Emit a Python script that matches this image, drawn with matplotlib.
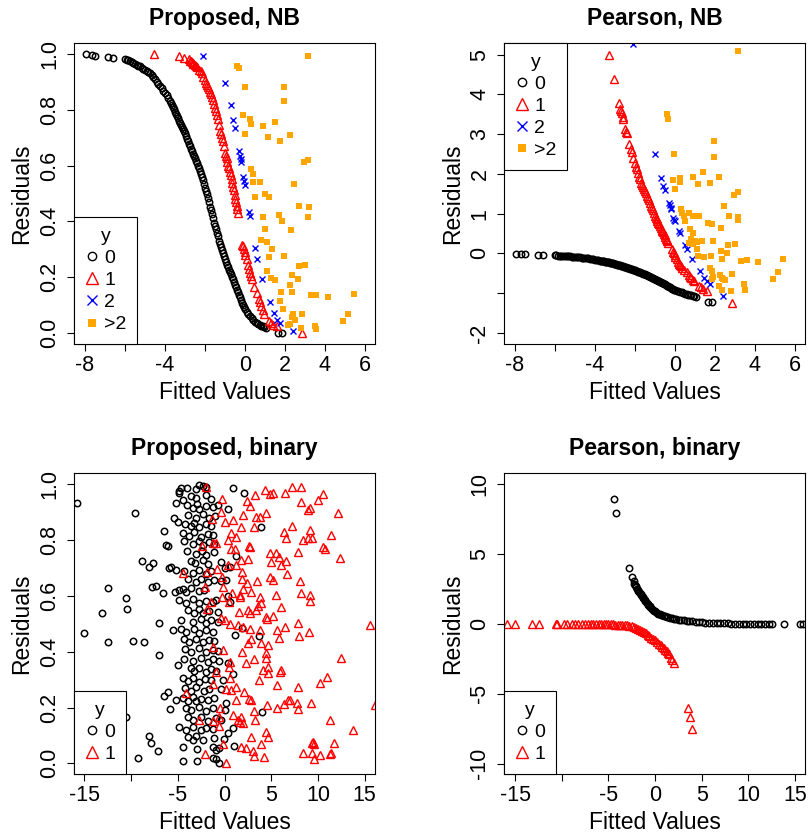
import numpy as np
import matplotlib
matplotlib.use('Agg')
import matplotlib.pyplot as plt
from matplotlib.lines import Line2D

nan = np.nan

# NB model, y = 0 : (fitted value, proposed residual, pearson residual)
nb_y0 = [
    (-7.95, 1.000, -0.025), (-7.67, 0.998, -0.026), (-7.50, 0.995, -0.027),
    (-6.83, 0.989, -0.038), (-6.58, 0.986, -0.040), (-6.00, 0.982, -0.050),
    (-5.92, 0.980, -0.052), (-5.85, 0.978, -0.054), (-5.75, 0.974, -0.056),
    (-5.67, 0.971, -0.058), (-5.58, 0.968, -0.062), (-5.50, 0.965, -0.065),
    (-5.42, 0.962, -0.068), (-5.33, 0.959, -0.072), (-5.25, 0.956, -0.076),
    (-5.17, 0.952, -0.079), (-5.08, 0.948, -0.082), (-5.00, 0.944, -0.085),
    (-4.92, 0.941, -0.090), (-4.83, 0.937, -0.095), (-4.75, 0.932, -0.100),
    (-4.67, 0.925, -0.105), (-4.58, 0.918, -0.110), (-4.50, 0.910, -0.115),
    (-4.42, 0.902, -0.121), (-4.33, 0.894, -0.128), (-4.25, 0.885, -0.135),
    (-4.17, 0.877, -0.141), (-4.08, 0.869, -0.148), (-4.00, 0.861, -0.155),
    (-3.92, 0.852, -0.162), (-3.83, 0.842, -0.171), (-3.75, 0.831, -0.180),
    (-3.70, 0.824, -0.185), (-3.65, 0.817, -0.190), (-3.60, 0.810, -0.195),
    (-3.55, 0.802, -0.200), (-3.50, 0.794, -0.205), (-3.45, 0.785, -0.211),
    (-3.40, 0.777, -0.217), (-3.35, 0.770, -0.223), (-3.30, 0.762, -0.229),
    (-3.25, 0.754, -0.235), (-3.20, 0.747, -0.241), (-3.15, 0.740, -0.247),
    (-3.10, 0.733, -0.253), (-3.05, 0.725, -0.259), (-3.00, 0.716, -0.265),
    (-2.95, 0.706, -0.272), (-2.90, 0.697, -0.280), (-2.85, 0.688, -0.288),
    (-2.80, 0.679, -0.296), (-2.75, 0.670, -0.304), (-2.70, 0.661, -0.312),
    (-2.65, 0.652, -0.320), (-2.60, 0.643, -0.328), (-2.55, 0.634, -0.336),
    (-2.50, 0.626, -0.345), (-2.45, 0.617, -0.353), (-2.40, 0.608, -0.361),
    (-2.35, 0.599, -0.370), (-2.30, 0.590, -0.378), (-2.25, 0.580, -0.387),
    (-2.20, 0.570, -0.395), (-2.15, 0.559, -0.404), (-2.10, 0.547, -0.412),
    (-2.05, 0.533, -0.421), (-2.00, 0.520, -0.430), (-1.95, 0.510, -0.440),
    (-1.90, 0.498, -0.450), (-1.85, 0.484, -0.460), (-1.80, 0.468, -0.470),
    (-1.75, 0.453, -0.480), (-1.70, 0.440, -0.490), (-1.65, 0.426, -0.500),
    (-1.60, 0.413, -0.510), (-1.55, 0.396, -0.520), (-1.50, 0.384, -0.530),
    (-1.45, 0.372, -0.542), (-1.40, 0.360, -0.554), (-1.35, 0.346, -0.566),
    (-1.30, 0.331, -0.578), (-1.25, 0.320, -0.590), (-1.20, 0.309, -0.602),
    (-1.15, 0.297, -0.614), (-1.10, 0.286, -0.626), (-1.05, 0.275, -0.638),
    (-1.00, 0.264, -0.650), (-0.95, 0.254, -0.663), (-0.90, 0.245, -0.676),
    (-0.85, 0.236, -0.689), (-0.80, 0.227, -0.702), (-0.75, 0.219, -0.715),
    (-0.70, 0.211, -0.728), (-0.65, 0.202, -0.741), (-0.60, 0.193, -0.754),
    (-0.55, 0.182, -0.767), (-0.50, 0.172, -0.780), (-0.45, 0.163, -0.795),
    (-0.40, 0.154, -0.810), (-0.35, 0.145, -0.825), (-0.30, 0.135, -0.840),
    (-0.25, 0.127, -0.855), (-0.20, 0.117, -0.870), (-0.15, 0.108, -0.885),
    (-0.10, 0.100, -0.900), (-0.05, 0.093, -0.910), (0.00, 0.085, -0.920),
    (0.08, 0.075, -0.935), (0.17, 0.067, -0.950), (0.25, 0.060, -0.965),
    (0.33, 0.052, -0.980), (0.42, 0.045, -0.995), (0.50, 0.040, -1.010),
    (0.58, 0.036, -1.020), (0.67, 0.031, -1.035), (0.75, 0.027, -1.045),
    (0.82, 0.025, -1.055), (0.88, 0.023, -1.065), (0.95, 0.020, -1.080),
    (1.03, 0.018, -1.090), (1.67, 0.001, -1.220), (1.83, 0.001, -1.220),
]

# NB model, y = 1
nb_y1 = [
    (-4.55, 1.000, nan), (-3.32, 0.992, 4.99), (-3.06, 0.986, 4.38),
    (-2.82, 0.982, 3.79), (-2.76, 0.977, 3.64), (-2.71, 0.974, 3.58),
    (-2.67, 0.971, 3.52), (-2.62, 0.968, 3.44), (-2.58, 0.965, 3.39),
    (-2.50, 0.962, 3.12), (-2.46, 0.958, 3.05), (-2.42, 0.954, 3.02),
    (-2.28, 0.944, 2.74), (-2.22, 0.938, 2.63), (-2.17, 0.934, 2.55),
    (-2.08, 0.918, 2.40), (-2.00, 0.906, 2.28), (-1.95, 0.898, 2.18),
    (-1.92, 0.890, 2.11), (-1.86, 0.882, 2.02), (-1.80, 0.875, 1.93),
    (-1.75, 0.866, 1.86), (-1.70, 0.857, 1.78), (-1.65, 0.845, 1.71),
    (-1.60, 0.835, 1.66), (-1.55, 0.822, 1.61), (-1.50, 0.807, 1.57),
    (-1.45, 0.795, 1.51), (-1.40, 0.782, 1.45), (-1.35, 0.766, 1.39),
    (-1.30, 0.745, 1.33), (-1.25, 0.724, 1.27), (-1.20, 0.712, 1.20),
    (-1.15, 0.700, 1.14), (-1.10, 0.690, 1.08), (-1.05, 0.670, 1.01),
    (-1.00, 0.646, 0.94), (-0.95, 0.635, 0.89), (-0.92, 0.627, 0.86),
    (-0.88, 0.613, 0.82), (-0.83, 0.599, 0.77), (-0.79, 0.590, 0.73),
    (-0.75, 0.578, 0.69), (-0.71, 0.566, 0.64), (-0.67, 0.553, 0.60),
    (-0.63, 0.538, 0.56), (-0.60, 0.525, 0.53), (-0.56, 0.512, 0.49),
    (-0.52, 0.495, 0.45), (-0.48, 0.480, 0.40), (-0.45, 0.468, 0.37),
    (-0.42, 0.456, 0.33), (-0.38, 0.444, 0.30), (-0.35, 0.430, 0.27),
    (-0.14, 0.317, 0.10), (-0.10, 0.310, 0.04), (-0.06, 0.300, 0.00),
    (-0.02, 0.290, -0.04), (0.02, 0.280, -0.08), (0.08, 0.265, -0.15),
    (0.15, 0.245, -0.21), (0.22, 0.230, -0.26), (0.27, 0.215, -0.30),
    (0.31, 0.205, -0.33), (0.36, 0.192, -0.36), (0.45, 0.165, -0.41),
    (0.58, 0.144, -0.48), (0.70, 0.120, -0.55), (0.76, 0.110, -0.59),
    (0.82, 0.095, -0.63), (0.88, 0.081, -0.67), (0.95, 0.069, -0.70),
    (1.22, 0.042, -0.82), (1.30, 0.037, -0.85), (1.40, 0.030, -0.89),
    (1.58, 0.025, -0.95), (2.85, 0.001, -1.26),
]

# NB model, y = 2
nb_y2 = [
    (-2.10, 0.994, 5.26), (-1.02, 0.896, 2.49), (-0.68, 0.819, 1.90),
    (-0.58, 0.765, 1.69), (-0.52, 0.736, 1.60), (-0.30, 0.652, 1.27),
    (-0.26, 0.635, 1.21), (-0.22, 0.623, 1.15), (-0.18, 0.613, 1.11),
    (-0.10, 0.561, 0.90), (-0.06, 0.545, 0.85), (0.00, 0.530, 0.81),
    (0.20, 0.432, 0.56), (0.26, 0.418, 0.50), (0.52, 0.304, 0.20),
    (0.60, 0.265, 0.10), (0.85, 0.194, -0.15), (1.23, 0.111, -0.44),
    (1.45, 0.073, -0.61), (1.62, 0.045, -0.70), (1.75, 0.037, -0.78),
    (2.42, 0.008, -1.07),
]

# NB model, y > 2 : (fitted value, residual), read separately per panel
nb_prop_gt2 = [
    (3.13, 0.992), (-0.42, 0.958), (-0.30, 0.950), (0.00, 0.881), (1.95, 0.881),
    (1.95, 0.831), (-0.12, 0.783), (0.25, 0.769), (0.30, 0.750), (1.50, 0.756),
    (0.88, 0.742), (2.25, 0.710), (1.17, 0.702), (1.75, 0.688), (0.00, 0.715),
    (2.95, 0.613), (3.13, 0.620), (0.30, 0.587), (0.38, 0.569), (0.42, 0.542),
    (0.75, 0.542), (2.47, 0.536), (1.00, 0.500), (1.22, 0.489), (0.50, 0.488),
    (2.70, 0.456), (3.18, 0.452), (3.13, 0.417), (1.70, 0.424), (0.88, 0.417),
    (1.87, 0.400), (1.00, 0.373), (2.28, 0.370), (0.80, 0.335), (1.08, 0.325),
    (1.33, 0.301), (1.20, 0.274), (1.95, 0.276), (2.72, 0.240), (3.00, 0.245),
    (1.12, 0.221), (1.28, 0.196), (1.50, 0.188), (2.33, 0.206), (2.63, 0.193),
    (2.25, 0.173), (1.78, 0.145), (2.37, 0.146), (3.28, 0.135), (3.40, 0.135),
    (3.55, 0.135), (4.13, 0.127), (5.45, 0.140), (1.75, 0.115), (1.90, 0.085),
    (2.38, 0.069), (2.87, 0.069), (2.33, 0.057), (2.50, 0.045), (2.25, 0.033),
    (2.17, 0.027), (2.78, 0.018), (3.50, 0.025), (3.55, 0.015), (4.88, 0.042),
    (5.13, 0.069),
]
nb_pear_gt2 = [
    (3.13, 5.09), (-0.42, 3.50), (-0.37, 3.37), (-0.05, 2.51), (1.95, 2.82),
    (1.95, 2.42), (-0.12, 1.84), (0.25, 1.89), (0.25, 1.79), (0.88, 1.92),
    (1.13, 1.75), (1.42, 2.05), (1.75, 1.76), (2.18, 1.92), (0.00, 1.61),
    (0.30, 1.11), (0.37, 1.01), (0.45, 0.94), (0.50, 0.81), (0.72, 1.02),
    (0.92, 0.94), (1.20, 0.94), (2.47, 1.19), (2.95, 1.48), (3.17, 1.54),
    (2.72, 0.94), (3.17, 0.91), (3.17, 0.83), (1.67, 0.77), (1.87, 0.73),
    (2.28, 0.64), (0.75, 0.62), (0.88, 0.50), (0.78, 0.37), (1.00, 0.30),
    (1.12, 0.28), (1.33, 0.31), (1.92, 0.31), (0.72, 0.27), (2.67, 0.22),
    (3.00, 0.24), (0.92, 0.23), (1.08, 0.10), (1.17, -0.07), (1.45, -0.09),
    (1.78, -0.07), (2.30, 0.05), (2.58, 0.02), (2.33, -0.13), (3.30, -0.18),
    (3.58, -0.17), (4.13, -0.21), (5.42, -0.15), (1.75, -0.36), (1.83, -0.44),
    (1.88, -0.59), (1.83, -0.65), (2.25, -0.55), (2.33, -0.61), (2.42, -0.65),
    (2.50, -0.68), (2.83, -0.53), (3.45, -0.78), (3.50, -0.91), (2.20, -0.82),
    (2.33, -0.92), (2.78, -0.95), (4.88, -0.64), (5.13, -0.47),
]

# binary model, proposed residuals : (fitted value, residual)
bin_prop_y0 = [
    (-15.77, 0.934), (-9.57, 0.896), (-12.47, 0.627), (-10.57, 0.591), (-10.39, 0.552),
    (-13.15, 0.538), (-15.02, 0.466), (-12.47, 0.436), (-9.78, 0.439), (-8.60, 0.433),
    (-7.06, 0.388), (-6.99, 0.502), (-8.78, 0.725), (-8.06, 0.705), (-7.63, 0.719),
    (-7.71, 0.633), (-7.28, 0.635), (-6.63, 0.611), (-6.42, 0.832), (-6.27, 0.782),
    (-6.06, 0.778), (-5.91, 0.699), (-5.73, 0.704), (-5.38, 0.878), (-5.20, 0.932),
    (-5.02, 0.866), (-4.84, 0.968), (-4.84, 0.974), (-4.01, 0.986), (-5.20, 0.692),
    (-10.57, 0.166), (-8.06, 0.097), (-7.85, 0.073), (-7.13, 0.046), (-9.21, 0.020),
    (-6.42, 0.240), (-6.09, 0.255), (-5.81, 0.193), (-5.20, 0.228), (-5.56, 0.477),
    (-5.02, 0.353), (-4.91, 0.621), (-5.27, 0.615),
    (0.90, 0.986), (2.08, 0.968), (3.87, 0.845), (3.66, 0.456), (4.01, 0.185),
    (1.00, 0.062), (1.25, 0.743), (0.00, 0.701), (0.54, 0.705), (0.18, 0.657),
    (0.36, 0.600), (0.54, 0.579), (1.15, 0.458), (1.90, 0.484), (0.36, 0.360),
    (0.90, 0.319), (-0.11, 0.300), (-0.36, 0.268), (0.18, 0.215), (0.07, 0.191),
    (0.36, 0.107), (0.90, 0.125), (-0.07, 0.089),
    (-2.69, 0.998), (-2.33, 0.994), (-1.97, 0.988), (-3.05, 0.982), (-4.66, 0.985),
    (-3.58, 0.958), (-3.05, 0.950), (-1.97, 0.962), (-1.43, 0.948), (-4.48, 0.945),
    (-4.01, 0.925), (-3.41, 0.915), (-2.97, 0.928), (-2.69, 0.910), (-1.97, 0.921),
    (-1.18, 0.918), (-0.72, 0.926), (0.36, 0.912),
    (-3.94, 0.889), (-3.05, 0.880), (-2.33, 0.892), (-1.61, 0.878), (-0.97, 0.886),
    (-4.19, 0.858), (-3.58, 0.851), (-3.23, 0.862), (-2.69, 0.848), (-1.97, 0.856),
    (-1.43, 0.850),
    (-4.48, 0.824), (-3.76, 0.815), (-3.23, 0.828), (-2.51, 0.812), (-1.79, 0.822),
    (-1.25, 0.818),
    (-4.30, 0.795), (-3.41, 0.786), (-2.69, 0.798), (-2.33, 0.781), (-1.61, 0.792),
    (-1.08, 0.786),
    (-4.01, 0.760), (-3.05, 0.750), (-2.40, 0.762), (-1.97, 0.748), (-1.08, 0.756),
    (-3.58, 0.725), (-3.12, 0.716), (-2.33, 0.728), (-1.79, 0.713), (-0.36, 0.721),
    (-4.30, 0.690), (-3.41, 0.680), (-2.69, 0.692), (-1.97, 0.678), (-1.43, 0.688),
    (-3.94, 0.660), (-3.05, 0.650), (-2.51, 0.662), (-1.79, 0.648), (-1.08, 0.657),
    (-0.36, 0.652),
    (-4.48, 0.625), (-4.12, 0.614), (-3.58, 0.628), (-2.69, 0.616), (-2.15, 0.622),
    (-4.84, 0.585), (-4.12, 0.576), (-3.41, 0.588), (-2.69, 0.574), (-1.97, 0.583),
    (-1.25, 0.577), (-0.90, 0.586),
    (-3.94, 0.550), (-3.23, 0.540), (-2.69, 0.552), (-2.33, 0.538), (-1.61, 0.547),
    (-0.72, 0.542),
    (-4.66, 0.515), (-3.41, 0.505), (-2.51, 0.517), (-1.97, 0.503), (-1.43, 0.512),
    (-0.72, 0.507),
    (-4.66, 0.480), (-4.12, 0.470), (-3.23, 0.482), (-2.69, 0.468), (-1.97, 0.477),
    (-1.25, 0.472),
    (-4.30, 0.445), (-3.76, 0.435), (-3.05, 0.447), (-2.33, 0.433), (-1.68, 0.442),
    (-1.08, 0.437),
    (-4.19, 0.410), (-3.58, 0.400), (-2.69, 0.412), (-1.97, 0.398), (-1.25, 0.407),
    (-0.72, 0.402),
    (-4.30, 0.375), (-3.41, 0.365), (-2.51, 0.377), (-1.79, 0.363), (-1.25, 0.372),
    (-0.54, 0.367),
    (-3.58, 0.340), (-3.23, 0.330), (-2.69, 0.342), (-1.97, 0.328), (-1.43, 0.337),
    (-0.90, 0.332),
    (-4.48, 0.305), (-3.94, 0.295), (-3.41, 0.307), (-2.69, 0.293), (-2.04, 0.302),
    (-1.43, 0.297),
    (-4.19, 0.270), (-3.58, 0.260), (-3.05, 0.272), (-2.15, 0.258), (-1.61, 0.267),
    (-4.48, 0.235), (-3.94, 0.225), (-3.41, 0.237), (-3.05, 0.223), (-2.51, 0.232),
    (-1.79, 0.227), (-1.08, 0.234),
    (-4.12, 0.200), (-3.58, 0.190), (-2.69, 0.202), (-1.97, 0.188), (-1.25, 0.197),
    (-3.94, 0.165), (-3.41, 0.155), (-2.51, 0.167), (-1.79, 0.153), (-0.90, 0.162),
    (-0.36, 0.157),
    (-4.84, 0.130), (-4.12, 0.120), (-3.41, 0.132), (-2.51, 0.118), (-1.97, 0.127),
    (-1.25, 0.122),
    (-3.94, 0.095), (-3.41, 0.085), (-3.05, 0.097), (-2.33, 0.083), (-1.08, 0.092),
    (-4.41, 0.058), (-2.97, 0.050), (-1.25, 0.060), (-0.90, 0.048), (-0.61, 0.055),
    (-4.41, 0.008), (-2.97, 0.008), (-1.25, 0.020), (-0.90, 0.014), (-0.61, 0.000),
]
bin_prop_y1 = [
    (-1.97, 0.991), (-0.25, 0.946), (-0.36, 0.902), (0.00, 0.863), (0.90, 0.872),
    (1.79, 0.848), (1.97, 0.890), (2.44, 0.940), (2.69, 0.923), (3.23, 0.961),
    (3.15, 0.846), (3.41, 0.884), (3.76, 0.884), (4.48, 0.898), (4.37, 0.979),
    (4.84, 0.965), (5.20, 0.970), (6.49, 0.967), (7.17, 0.989), (8.14, 0.989),
    (8.17, 0.935), (8.96, 0.908), (9.14, 0.914), (10.04, 0.943), (10.57, 0.964),
    (12.19, 0.898), (6.34, 0.830), (6.63, 0.808), (7.24, 0.850), (8.35, 0.800),
    (8.96, 0.806), (9.14, 0.836), (9.32, 0.808), (11.40, 0.818), (10.75, 0.768),
    (12.37, 0.734), (-1.33, 0.874), (0.65, 0.826), (0.36, 0.800), (1.25, 0.812),
    (-2.44, 0.779), (-1.25, 0.791), (-0.90, 0.788), (0.72, 0.768), (1.08, 0.768),
    (2.58, 0.779), (2.69, 0.774), (1.79, 0.728), (2.51, 0.731), (4.84, 0.752),
    (5.56, 0.755), (5.02, 0.720), (5.84, 0.738), (6.09, 0.711), (6.63, 0.726),
    (7.89, 0.756), (10.57, 0.774), (-0.79, 0.696), (-1.86, 0.687), (-4.41, 0.681),
    (-0.29, 0.666), (0.36, 0.711), (1.25, 0.711), (1.90, 0.687), (1.90, 0.659),
    (2.40, 0.645), (3.48, 0.653), (4.84, 0.669), (5.20, 0.657), (6.70, 0.678),
    (8.06, 0.653), (-2.08, 0.633), (-0.18, 0.633), (-0.25, 0.597), (0.79, 0.609),
    (1.61, 0.603), (1.97, 0.624), (2.87, 0.615), (3.76, 0.597), (3.94, 0.575),
    (3.58, 0.564), (3.41, 0.549), (2.51, 0.549), (2.69, 0.540), (1.61, 0.597),
    (1.51, 0.541), (0.47, 0.579), (-1.43, 0.579), (-1.86, 0.552), (-0.36, 0.519),
    (0.00, 0.513), (0.61, 0.498), (1.43, 0.495), (1.97, 0.489), (2.69, 0.480),
    (2.87, 0.444), (3.76, 0.478), (4.48, 0.525), (4.55, 0.516), (5.20, 0.528),
    (5.48, 0.603), (6.02, 0.561), (6.45, 0.489), (7.81, 0.501), (8.14, 0.611),
    (9.14, 0.603), (9.14, 0.581), (9.07, 0.469), (7.99, 0.457), (5.81, 0.448),
    (5.63, 0.478), (15.59, 0.495), (-1.18, 0.418), (-0.11, 0.406), (1.90, 0.400),
    (2.51, 0.430), (3.94, 0.432), (4.66, 0.424), (4.48, 0.396), (4.41, 0.376),
    (3.12, 0.372), (2.33, 0.358), (0.54, 0.364), (0.47, 0.346), (-0.90, 0.328),
    (-1.25, 0.286), (0.11, 0.268), (0.61, 0.304), (0.72, 0.262), (1.18, 0.274),
    (2.08, 0.254), (2.62, 0.229), (2.87, 0.227), (1.25, 0.227), (3.66, 0.298),
    (4.12, 0.334), (4.66, 0.346), (4.66, 0.322), (5.66, 0.282), (5.91, 0.328),
    (6.09, 0.334), (7.89, 0.274), (10.22, 0.289), (10.93, 0.308), (12.44, 0.376),
    (6.81, 0.227), (6.99, 0.227), (6.34, 0.211), (5.66, 0.200), (7.78, 0.215),
    (7.89, 0.193), (9.25, 0.217), (4.55, 0.208), (3.15, 0.187), (1.79, 0.167),
    (1.43, 0.157), (1.61, 0.149), (0.90, 0.173), (-0.47, 0.200), (-0.54, 0.167),
    (-0.61, 0.135), (-1.25, 0.153), (-2.76, 0.155), (-4.12, 0.253), (1.97, 0.143),
    (3.23, 0.157), (16.13, 0.209), (4.48, 0.113), (4.66, 0.095), (2.87, 0.095),
    (1.79, 0.059), (2.33, 0.056), (3.05, 0.045), (3.12, 0.026), (3.87, 0.071),
    (4.19, 0.021), (-0.18, 0.068), (-2.04, 0.032), (0.11, 0.003), (8.42, 0.036),
    (9.32, 0.036), (9.32, 0.074), (9.50, 0.077), (9.57, 0.071), (9.57, 0.014),
    (10.22, 0.030), (11.29, 0.155), (11.29, 0.032), (11.40, 0.038), (11.72, 0.074),
    (13.80, 0.121),
]

# binary model, pearson residuals
bin_pear_y0 = [
    (-4.39, 8.93), (-4.18, 7.95), (-2.79, 3.98), (-2.43, 3.38), (-2.30, 3.05),
    (-2.22, 2.88), (-2.15, 2.80), (-2.07, 2.72), (-2.00, 2.62), (-1.92, 2.52),
    (-1.85, 2.44), (-1.78, 2.36), (-1.70, 2.28), (-1.62, 2.20), (-1.55, 2.13),
    (-1.48, 2.06), (-1.40, 1.99), (-1.32, 1.92), (-1.25, 1.85), (-1.17, 1.77),
    (-1.10, 1.70), (-1.02, 1.62), (-0.95, 1.55), (-0.87, 1.49), (-0.80, 1.43),
    (-0.72, 1.37), (-0.65, 1.31), (-0.57, 1.26), (-0.50, 1.21), (-0.40, 1.14),
    (-0.30, 1.07), (-0.20, 1.01), (-0.10, 0.95), (0.00, 0.90), (0.12, 0.84),
    (0.25, 0.79), (0.37, 0.74), (0.50, 0.70), (0.65, 0.65), (0.80, 0.61),
    (0.95, 0.57), (1.10, 0.54), (1.25, 0.51), (1.45, 0.47), (1.65, 0.43),
    (1.85, 0.40), (2.05, 0.37), (2.30, 0.34), (2.55, 0.31), (2.80, 0.28),
    (3.10, 0.25), (3.40, 0.22), (3.70, 0.20), (4.00, 0.18), (4.35, 0.16),
    (4.70, 0.14), (5.05, 0.12), (5.40, 0.10), (5.80, 0.09), (6.20, 0.07),
    (6.60, 0.06), (7.00, 0.05), (7.40, 0.04), (7.80, 0.035), (8.20, 0.03),
    (8.60, 0.025), (9.00, 0.02), (9.40, 0.015), (9.80, 0.012), (10.20, 0.01),
    (10.60, 0.008), (11.00, 0.006), (11.40, 0.005), (11.80, 0.004), (12.20, 0.003),
    (12.55, 0.002), (13.80, 0.001), (15.50, 0.0), (15.90, 0.0),
]
bin_pear_y1 = [
    (-15.82, 0.0), (-15.00, 0.0), (-13.21, 0.0), (-12.43, 0.0), (-10.64, 0.0),
    (-10.46, 0.0), (-9.75, 0.0), (-9.46, 0.0), (-8.90, 0.0), (-8.57, 0.0),
    (-8.20, 0.0), (-7.86, 0.0), (-7.50, 0.0), (-7.20, 0.0), (-6.90, 0.0),
    (-6.60, -0.01), (-6.30, -0.01), (-6.00, -0.01), (-5.75, -0.01), (-5.50, -0.02),
    (-5.25, -0.02), (-5.00, -0.02), (-4.75, -0.03), (-4.50, -0.03), (-4.25, -0.04),
    (-4.00, -0.05), (-3.75, -0.06), (-3.50, -0.07), (-3.25, -0.08), (-3.00, -0.10),
    (-2.75, -0.13), (-2.50, -0.16), (-2.25, -0.22), (-2.00, -0.28), (-1.80, -0.34),
    (-1.60, -0.41), (-1.40, -0.48), (-1.20, -0.57), (-1.00, -0.66), (-0.80, -0.76),
    (-0.60, -0.86), (-0.40, -0.97), (-0.20, -1.07), (0.00, -1.17), (0.20, -1.28),
    (0.40, -1.40), (0.60, -1.52), (0.80, -1.64), (0.95, -1.73), (1.10, -1.85),
    (1.25, -1.97), (1.40, -2.08), (1.55, -2.12), (1.70, -2.45), (1.85, -2.57),
    (2.07, -2.81), (3.57, -6.02), (3.75, -6.69), (4.00, -7.52),
]

plt.rcParams['font.family'] = ['Liberation Sans', 'DejaVu Sans']

styles = {
    '0': dict(marker='o', mfc='none', mec='black', ms=4.6, mew=1.1),
    '1': dict(marker='^', mfc='none', mec='red', ms=6.0, mew=1.0),
    '2': dict(marker='x', color='blue', ms=4.8, mew=1.0),
    '>2': dict(marker='s', color='orange', mec='orange', ms=4.7, mew=0),
}
leg_styles = {
    '0': dict(marker='o', mfc='none', mec='black', ms=6, mew=1.0),
    '1': dict(marker='^', mfc='none', mec='red', ms=8, mew=1.0),
    '2': dict(marker='x', color='blue', ms=6.5, mew=1.0),
    '>2': dict(marker='s', color='orange', mec='orange', ms=6, mew=0),
}


def col(rows, i):
    return np.array([r[i] for r in rows], dtype=float)


def panel(pos, title, series, xticks, xlabels, yticks, ylabels, xlim, ylim, loc):
    ax = fig.add_axes(pos)
    keys = []
    for key, x, y in series:
        ax.plot(x, y, ls='none', **styles[key])
        keys.append(key)
    ax.set_xlim(*xlim)
    ax.set_ylim(*ylim)
    ax.set_xticks(xticks)
    ax.set_xticklabels(xlabels)
    ax.set_yticks(yticks)
    ax.set_yticklabels(ylabels, rotation=90, va='center')
    ax.tick_params(direction='out', length=5, width=0.8, labelsize=15.5,
                   top=False, right=False)
    ax.tick_params(axis='x', pad=3)
    ax.tick_params(axis='y', pad=5)
    for s in ax.spines.values():
        s.set_linewidth(0.8)
        s.set_color('black')
    ax.text(0.5, 1.083, title, transform=ax.transAxes, ha='center', va='center',
            fontsize=16.5, fontweight='bold')
    ax.text(0.5, -0.161, 'Fitted Values', transform=ax.transAxes,
            ha='center', va='center', fontsize=16.5)
    ax.text(-0.173, 0.5, 'Residuals', transform=ax.transAxes, rotation=90,
            ha='center', va='center', fontsize=16.5)
    handles = [Line2D([], [], ls='none', **leg_styles[k]) for k in keys]
    leg = ax.legend(handles, keys, title='y', loc=loc, borderaxespad=0,
                    fancybox=False, edgecolor='black', framealpha=1,
                    fontsize=14, title_fontsize=14, handlelength=0.7,
                    handletextpad=0.3, labelspacing=0.23, borderpad=0.55)
    leg.get_frame().set_linewidth(0.8)
    return ax


fig = plt.figure(figsize=(8.08, 8.36), dpi=100)

nb_xt = [-8, -6, -4, -2, 0, 2, 4, 6]
nb_xl = ['-8', '', '-4', '', '0', '2', '4', '6']
prop_yt = [0, 0.2, 0.4, 0.6, 0.8, 1.0]
prop_yl = ['0.0', '0.2', '0.4', '0.6', '0.8', '1.0']
bin_xt = [-15, -10, -5, 0, 5, 10, 15]
bin_xl = ['-15', '', '-5', '0', '5', '10', '15']

panel([0.0916, 0.5885, 0.3725, 0.3600], 'Proposed, NB',
      [('0', col(nb_y0, 0), col(nb_y0, 1)),
       ('1', col(nb_y1, 0), col(nb_y1, 1)),
       ('2', col(nb_y2, 0), col(nb_y2, 1)),
       ('>2', col(nb_prop_gt2, 0), col(nb_prop_gt2, 1))],
      nb_xt, nb_xl, prop_yt, prop_yl, (-8.55, 6.5), (-0.04, 1.04), 'lower left')

panel([0.6241, 0.5885, 0.3722, 0.3600], 'Pearson, NB',
      [('0', col(nb_y0, 0), col(nb_y0, 2)),
       ('1', col(nb_y1, 0), col(nb_y1, 2)),
       ('2', col(nb_y2, 0), col(nb_y2, 2)),
       ('>2', col(nb_pear_gt2, 0), col(nb_pear_gt2, 1))],
      nb_xt, nb_xl, [-2, -1, 0, 1, 2, 3, 4, 5], ['-2', '', '0', '1', '2', '3', '4', '5'],
      (-8.53, 6.5), (-2.28, 5.29), 'upper left')

panel([0.0916, 0.0742, 0.3725, 0.3597], 'Proposed, binary',
      [('0', col(bin_prop_y0, 0), col(bin_prop_y0, 1)),
       ('1', col(bin_prop_y1, 0), col(bin_prop_y1, 1))],
      bin_xt, bin_xl, prop_yt, prop_yl, (-16.1, 16.1), (-0.038, 1.039), 'lower left')

panel([0.6241, 0.0742, 0.3722, 0.3597], 'Pearson, binary',
      [('0', col(bin_pear_y0, 0), col(bin_pear_y0, 1)),
       ('1', col(bin_pear_y1, 0), col(bin_pear_y1, 1))],
      bin_xt, bin_xl, [-10, -5, 0, 5, 10], ['-10', '-5', '0', '5', '10'],
      (-16.15, 16.08), (-10.74, 10.79), 'lower left')

fig.savefig('out.png', dpi=100)
